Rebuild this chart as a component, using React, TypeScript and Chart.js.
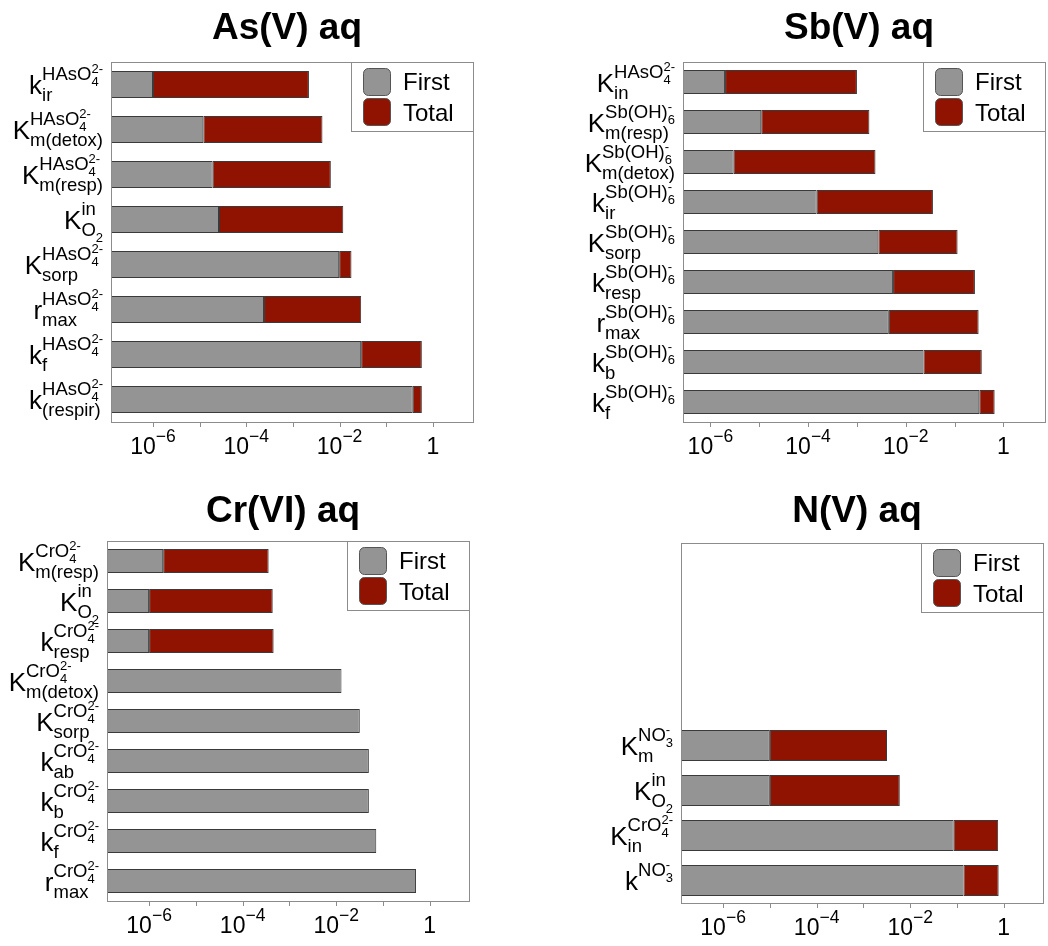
import React, { useEffect, useRef } from 'react';
import { Chart, registerables } from 'chart.js';

Chart.register(...registerables);

// ---------------- DATA ----------------
const asTitle = 'As(V) aq';
const asLabels = [
  'k_{ir}^{HAsO_4^{2-}}',
  'K_{m(detox)}^{HAsO_4^{2-}}',
  'K_{m(resp)}^{HAsO_4^{2-}}',
  'K_{O_2}^{in}',
  'K_{sorp}^{HAsO_4^{2-}}',
  'r_{max}^{HAsO_4^{2-}}',
  'k_{f}^{HAsO_4^{2-}}',
  'k_{(respir)}^{HAsO_4^{2-}}',
];
const asFirst = [1.0e-6, 1.2e-5, 1.9e-5, 2.6e-5, 9.8e-3, 2.4e-4, 2.9e-2, 0.37];
const asTotal = [2.2e-3, 4.3e-3, 6.5e-3, 1.2e-2, 1.8e-2, 2.9e-2, 0.58, 0.58];

const sbTitle = 'Sb(V) aq';
const sbLabels = [
  'K_{in}^{HAsO_4^{2-}}',
  'K_{m(resp)}^{Sb(OH)_6^{-}}',
  'K_{m(detox)}^{Sb(OH)_6^{-}}',
  'k_{ir}^{Sb(OH)_6^{-}}',
  'K_{sorp}^{Sb(OH)_6^{-}}',
  'k_{resp}^{Sb(OH)_6^{-}}',
  'r_{max}^{Sb(OH)_6^{-}}',
  'k_{b}^{Sb(OH)_6^{-}}',
  'k_{f}^{Sb(OH)_6^{-}}',
];
const sbFirst = [2.0e-6, 1.1e-5, 3.0e-6, 1.5e-4, 2.75e-3, 5.5e-3, 4.5e-3, 2.3e-2, 0.32];
const sbTotal = [1.0e-3, 1.8e-3, 2.4e-3, 3.6e-2, 0.115, 0.26, 0.31, 0.36, 0.66];

const crTitle = 'Cr(VI) aq';
const crLabels = [
  'K_{m(resp)}^{CrO_4^{2-}}',
  'K_{O_2}^{in}',
  'k_{resp}^{CrO_4^{2-}}',
  'K_{m(detox)}^{CrO_4^{2-}}',
  'K_{sorp}^{CrO_4^{2-}}',
  'k_{ab}^{CrO_4^{2-}}',
  'k_{b}^{CrO_4^{2-}}',
  'k_{f}^{CrO_4^{2-}}',
  'r_{max}^{CrO_4^{2-}}',
];
const crFirst = [2.0e-6, 1.0e-6, 1.0e-6, 1.3e-2, 3.2e-2, 5.0e-2, 5.0e-2, 7.2e-2, 0.51];
const crTotal = [3.6e-4, 4.4e-4, 4.6e-4, null, null, null, null, null, null];

const nTitle = 'N(V) aq';
const nLabels = ['', '', '', '', 'K_{m}^{NO_3^{-}}', 'K_{O_2}^{in}', 'K_{in}^{CrO_4^{2-}}', 'k^{NO_3^{-}}'];
const nFirst = [null, null, null, null, 1.0e-5, 1.0e-5, 8.5e-2, 0.138];
const nTotal = [null, null, null, null, 3.2e-3, 6.0e-3, 0.76, 0.78];

const seriesNames = ['First', 'Total'];
const tickExponents = [-6, -4, -2, 0];

// ---------------- STYLE ----------------
const FONT = '"Liberation Sans", Arial, Helvetica, sans-serif';
const GRAY = '#949494';
const RED = '#8f1300';
const EDGE = '#3a3a3a';
const FRAME = '#8c8c8c';

// ---------------- mini script parser ----------------
type Node = { t: 'text'; s: string } | { t: 'script'; sub?: Node[]; sup?: Node[] };

function parse(s: string, i = 0): [Node[], number] {
  const nodes: Node[] = [];
  let buf = '';
  const flush = () => {
    if (buf) nodes.push({ t: 'text', s: buf });
    buf = '';
  };
  while (i < s.length) {
    const c = s[i];
    if (c === '}') {
      flush();
      return [nodes, i + 1];
    }
    if (c === '_' || c === '^') {
      flush();
      i++;
      let grp: Node[];
      if (s[i] === '{') {
        [grp, i] = parse(s, i + 1);
      } else {
        grp = [{ t: 'text', s: s[i] }];
        i++;
      }
      const key = c === '_' ? 'sub' : 'sup';
      const last = nodes[nodes.length - 1] as any;
      if (last && last.t === 'script' && !last[key]) last[key] = grp;
      else nodes.push({ t: 'script', [key]: grp } as Node);
      continue;
    }
    buf += c;
    i++;
  }
  flush();
  return [nodes, i];
}

type Spec = { sizes: number[]; sup: number[]; sub: number[]; weight?: string };

function setFont(ctx: CanvasRenderingContext2D, spec: Spec, level: number) {
  const sz = spec.sizes[Math.min(level, spec.sizes.length - 1)];
  ctx.font = `${spec.weight || 'normal'} ${sz}px ${FONT}`;
}

function measure(ctx: CanvasRenderingContext2D, nodes: Node[], level: number, spec: Spec): number {
  let w = 0;
  for (const n of nodes) {
    if (n.t === 'text') {
      setFont(ctx, spec, level);
      w += ctx.measureText(n.s).width;
    } else {
      const a = n.sub ? measure(ctx, n.sub, level + 1, spec) : 0;
      const b = n.sup ? measure(ctx, n.sup, level + 1, spec) : 0;
      w += Math.max(a, b);
    }
  }
  return w;
}

function drawNodes(ctx: CanvasRenderingContext2D, nodes: Node[], x: number, y: number, level: number, spec: Spec): number {
  for (const n of nodes) {
    if (n.t === 'text') {
      setFont(ctx, spec, level);
      ctx.fillText(n.s, x, y);
      x += ctx.measureText(n.s).width;
    } else {
      const lv = Math.min(level, spec.sup.length - 1);
      let a = 0;
      let b = 0;
      if (n.sub) a = drawNodes(ctx, n.sub, x, y + spec.sub[lv], level + 1, spec) - x;
      if (n.sup) b = drawNodes(ctx, n.sup, x, y - spec.sup[lv], level + 1, spec) - x;
      x += Math.max(a, b);
    }
  }
  return x;
}

const labelSpec: Spec = { sizes: [26, 18.5, 13], sup: [14, 7], sub: [7, 6] };
const tickSpec: Spec = { sizes: [23, 17.5], sup: [12], sub: [0] };

// ---------------- Panel ----------------
type PanelProps = {
  title: string;
  labels: string[];
  first: (number | null)[];
  total: (number | null)[];
  xMin: number;
  xMax: number;
  barPct: number;
  left: number;
  top: number;
  width: number;
  height: number;
  pad: { left: number; top: number; right: number; bottom: number };
  titleGap: number;
};

function Panel(p: PanelProps) {
  const ref = useRef<HTMLCanvasElement | null>(null);
  useEffect(() => {
    if (!ref.current) return;
    const parsed = p.labels.map((l) => parse(l)[0]);
    const overlay = {
      id: 'overlay',
      afterDraw(chart: any) {
        const ctx: CanvasRenderingContext2D = chart.ctx;
        const area = chart.chartArea;
        const xs = chart.scales.x;
        const ys = chart.scales.y;
        ctx.save();
        // frame
        ctx.strokeStyle = FRAME;
        ctx.lineWidth = 1;
        ctx.strokeRect(Math.round(area.left) + 0.5, Math.round(area.top) + 0.5, Math.round(area.right - area.left), Math.round(area.bottom - area.top));
        // ticks
        const lo = Math.ceil(Math.log10(p.xMin));
        const hi = Math.floor(Math.log10(p.xMax));
        ctx.beginPath();
        for (let k = lo; k <= hi; k++) {
          const x = Math.round(xs.getPixelForValue(Math.pow(10, k))) + 0.5;
          ctx.moveTo(x, area.bottom);
          ctx.lineTo(x, area.bottom + 5);
        }
        ctx.stroke();
        // tick labels
        ctx.fillStyle = '#000';
        ctx.textBaseline = 'alphabetic';
        ctx.textAlign = 'left';
        for (const k of tickExponents) {
          const txt = k === 0 ? '1' : `10^{\u2212${-k}}`;
          const nodes = parse(txt)[0];
          const w = measure(ctx, nodes, 0, tickSpec);
          const x = xs.getPixelForValue(Math.pow(10, k));
          drawNodes(ctx, nodes, x - w / 2, area.bottom + 32, 0, tickSpec);
        }
        // category labels
        parsed.forEach((nodes, i) => {
          if (!nodes.length) return;
          const y = ys.getPixelForValue(i);
          const w = measure(ctx, nodes, 0, labelSpec);
          drawNodes(ctx, nodes, area.left - 8 - w, y + 9.5, 0, labelSpec);
        });
        // title
        ctx.font = `bold 37px ${FONT}`;
        ctx.textAlign = 'center';
        ctx.fillText(p.title, (area.left + area.right) / 2 - 5, area.top - p.titleGap);
        // legend
        const lw = 122;
        const lh = 69;
        const lx = area.right - lw;
        const ly = area.top;
        ctx.fillStyle = '#fff';
        ctx.fillRect(lx, ly, lw, lh);
        ctx.strokeStyle = FRAME;
        ctx.strokeRect(Math.round(lx) + 0.5, Math.round(ly) + 0.5, lw, lh);
        const colors = [GRAY, RED];
        seriesNames.forEach((name, j) => {
          const sy = ly + 6 + j * 30;
          ctx.beginPath();
          (ctx as any).roundRect(lx + 12.5, sy + 0.5, 27, 27, 5);
          ctx.fillStyle = colors[j];
          ctx.fill();
          ctx.strokeStyle = '#555';
          ctx.lineWidth = 1;
          ctx.stroke();
          ctx.fillStyle = '#000';
          ctx.textAlign = 'left';
          ctx.font = `24px ${FONT}`;
          ctx.fillText(name, lx + 52, ly + 28 + j * 31);
        });
        ctx.restore();
      },
    };
    const totalData = p.total.map((t, i) => (t == null || p.first[i] == null ? null : [p.first[i], t]));
    const chart = new Chart(ref.current, {
      type: 'bar',
      data: {
        labels: p.labels,
        datasets: [
          {
            label: seriesNames[0],
            data: p.first as any,
            backgroundColor: GRAY,
            borderColor: EDGE,
            borderWidth: 1,
            borderSkipped: false,
            grouped: false,
            barPercentage: p.barPct,
            categoryPercentage: 1,
          },
          {
            label: seriesNames[1],
            data: totalData as any,
            backgroundColor: RED,
            borderColor: EDGE,
            borderWidth: 1,
            borderSkipped: false,
            grouped: false,
            barPercentage: p.barPct,
            categoryPercentage: 1,
          },
        ],
      },
      options: {
        indexAxis: 'y',
        responsive: false,
        animation: false,
        devicePixelRatio: 1,
        layout: { padding: p.pad },
        scales: {
          x: { type: 'logarithmic', min: p.xMin, max: p.xMax, display: false },
          y: { type: 'category', display: false },
        },
        plugins: { legend: { display: false }, tooltip: { enabled: false }, title: { display: false } },
      } as any,
      plugins: [overlay],
    });
    return () => chart.destroy();
  }, []);
  return (
    <div style={{ position: 'absolute', left: p.left, top: p.top, width: p.width, height: p.height }}>
      <canvas ref={ref} width={p.width} height={p.height} style={{ display: 'block' }} />
    </div>
  );
}

export default function App() {
  return (
    <div style={{ position: 'absolute', left: 0, top: 0, width: 1048, height: 946, background: '#fff' }}>
      <Panel
        title={asTitle}
        labels={asLabels}
        first={asFirst}
        total={asTotal}
        xMin={Math.pow(10, -6.9)}
        xMax={Math.pow(10, 0.86)}
        barPct={0.6}
        left={0}
        top={0}
        width={524}
        height={473}
        pad={{ left: 111, top: 62, right: 51, bottom: 51 }}
        titleGap={23}
      />
      <Panel
        title={sbTitle}
        labels={sbLabels}
        first={sbFirst}
        total={sbTotal}
        xMin={Math.pow(10, -6.56)}
        xMax={Math.pow(10, 0.85)}
        barPct={0.6}
        left={524}
        top={0}
        width={524}
        height={473}
        pad={{ left: 159, top: 62, right: 3, bottom: 51 }}
        titleGap={23}
      />
      <Panel
        title={crTitle}
        labels={crLabels}
        first={crFirst}
        total={crTotal}
        xMin={Math.pow(10, -6.9)}
        xMax={Math.pow(10, 0.84)}
        barPct={0.6}
        left={0}
        top={473}
        width={524}
        height={473}
        pad={{ left: 107, top: 68, right: 55, bottom: 45 }}
        titleGap={19}
      />
      <Panel
        title={nTitle}
        labels={nLabels}
        first={nFirst}
        total={nTotal}
        xMin={Math.pow(10, -6.9)}
        xMax={Math.pow(10, 0.84)}
        barPct={0.69}
        left={524}
        top={473}
        width={524}
        height={473}
        pad={{ left: 157, top: 70, right: 5, bottom: 43 }}
        titleGap={21}
      />
    </div>
  );
}
